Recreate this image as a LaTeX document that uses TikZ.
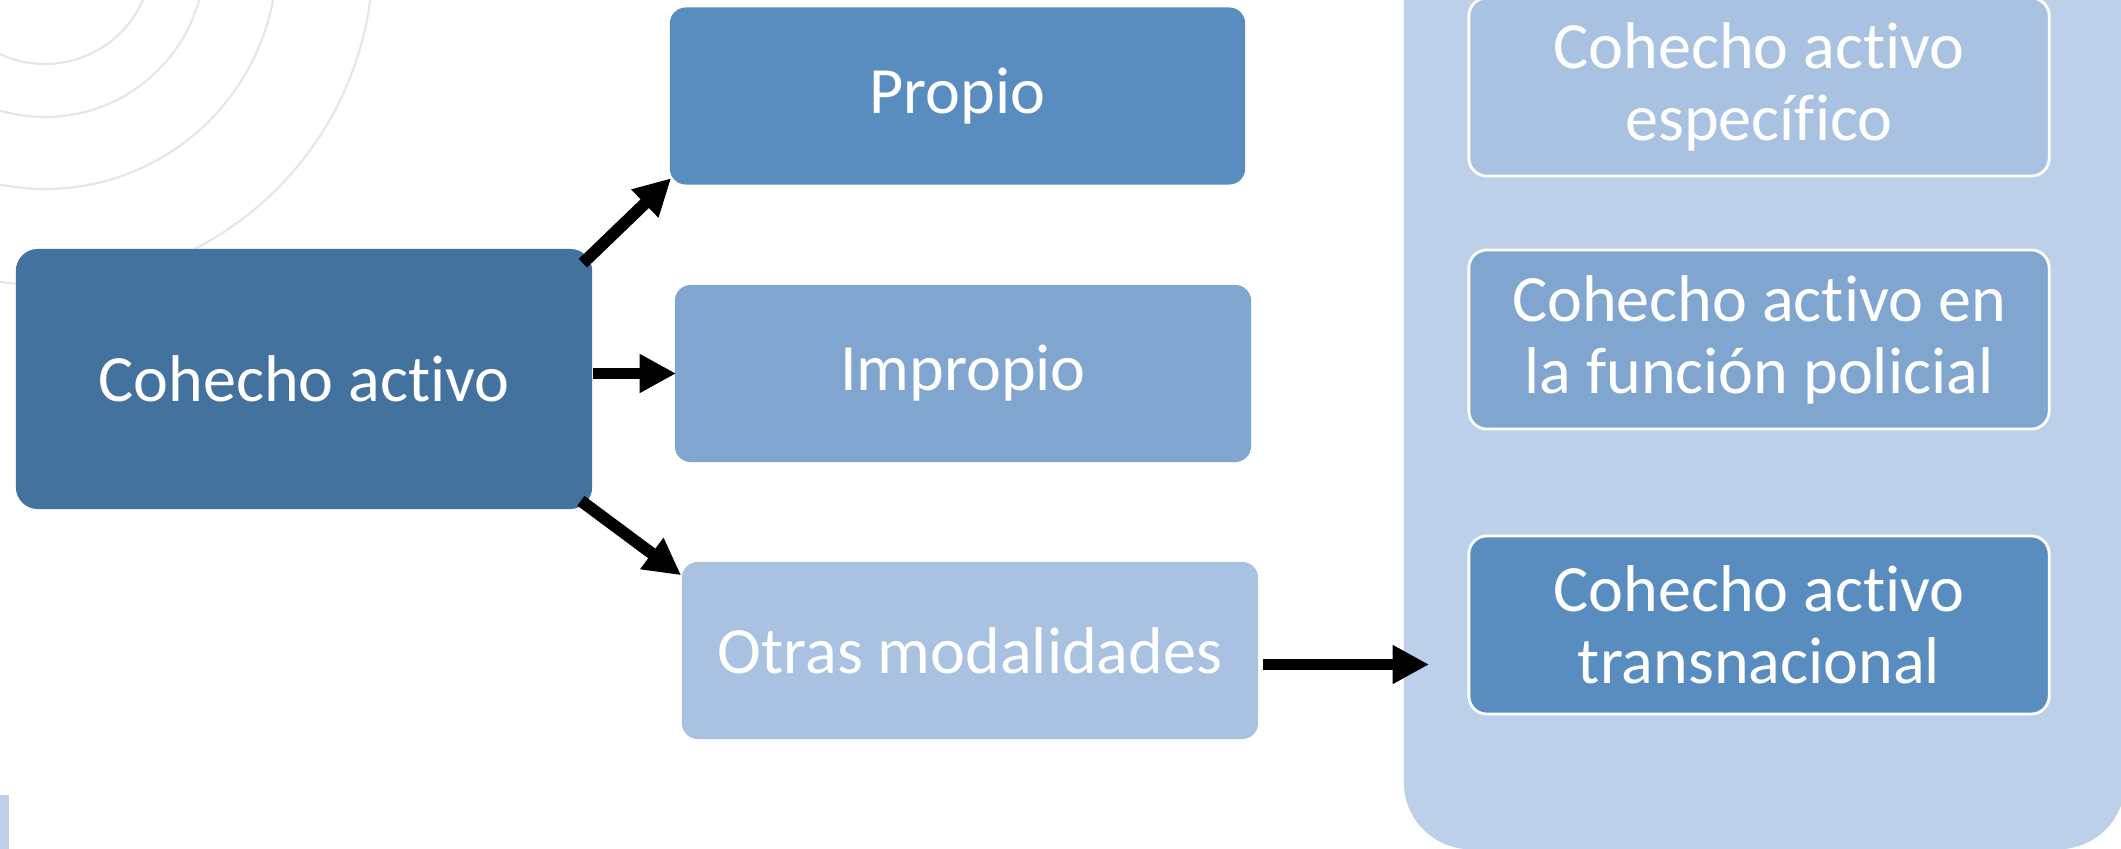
\documentclass[tikz,border=0pt]{standalone}
\usepackage{fontspec}
\setmainfont{Carlito}[Ligatures=NoCommon]
\usetikzlibrary{arrows.meta,calc}
\definecolor{cdark}{HTML}{44729E}
\definecolor{cmid}{HTML}{5A8DBF}
\definecolor{clight}{HTML}{80A6D0}
\definecolor{cpale}{HTML}{A9C2E1}
\definecolor{ccont}{HTML}{BCD1E9}
\definecolor{carc}{HTML}{E6E6E6}
\tikzset{
  box/.style={rectangle, rounded corners=16*0.01cm, inner sep=0pt, text=white,
    align=center, font=\fontsize{18.8}{20.5}\selectfont},
  innerbox/.style={box, draw=white, line width=0.8pt, rounded corners=18*0.01cm,
    minimum width=5.80cm},
  arr/.style={line width=3.41pt, -{Triangle[length=10.4pt,width=10.4pt]}},
  arc/.style={draw=carc, line width=0.6pt},
}
\begin{document}
\begin{tikzpicture}[x=0.01cm,y=-0.01cm]
\useasboundingbox (0,0) rectangle (2121,849);
\clip (0,0) rectangle (2121,849);
\fill[white] (0,0) rectangle (2121,849);
% background arcs
\foreach \r in {107,160,232,328} \draw[arc] (45,-43) circle (\r);
\fill[ccont] (0,795) rectangle (9,849);
% container
\node[rectangle, fill=ccont, rounded corners=67*0.01cm, minimum width=7.21cm,
  minimum height=9.49cm, inner sep=0pt] (cont) at (1764.5,374.5) {};
\node[innerbox, fill=cpale, minimum height=1.78cm] (b1) at (1759,87)
  {Cohecho activo\\específico};
\node[innerbox, fill=clight, minimum height=1.79cm] (b2) at (1759,339.5)
  {Cohecho activo en\\la función policial};
\node[innerbox, fill=cmid, minimum height=1.78cm] (b3) at (1759,625)
  {Cohecho activo\\transnacional};
% main boxes
\node[box, fill=cdark, rounded corners=22*0.01cm, minimum width=5.76cm,
  minimum height=2.60cm] (ca) at (304,379) {Cohecho activo};
\node[box, fill=cmid, minimum width=5.75cm, minimum height=1.77cm] (propio)
  at (957.5,96) {Propio};
\node[box, fill=clight, minimum width=5.76cm, minimum height=1.77cm] (imp)
  at (963,373.5) {Impropio};
\node[box, fill=cpale, minimum width=5.76cm, minimum height=1.77cm] (otras)
  at (970,650.5) {Otras modalidades};
% arrows
\draw[arr] ($(ca.north east)+(-10,15)$) -- ($(propio.south west)+(2,-7)$);
\draw[arr] (ca.east |- imp.west) -- ($(imp.west)+(2,0)$);
\draw[arr] ($(ca.south east)+(-12,-9)$) -- ($(otras.north west)+(0,14)$);
\draw[arr] ($(otras.east)+(4,14)$) -- ($(cont.west |- otras.east)+(26,14)$);
\end{tikzpicture}
\end{document}
